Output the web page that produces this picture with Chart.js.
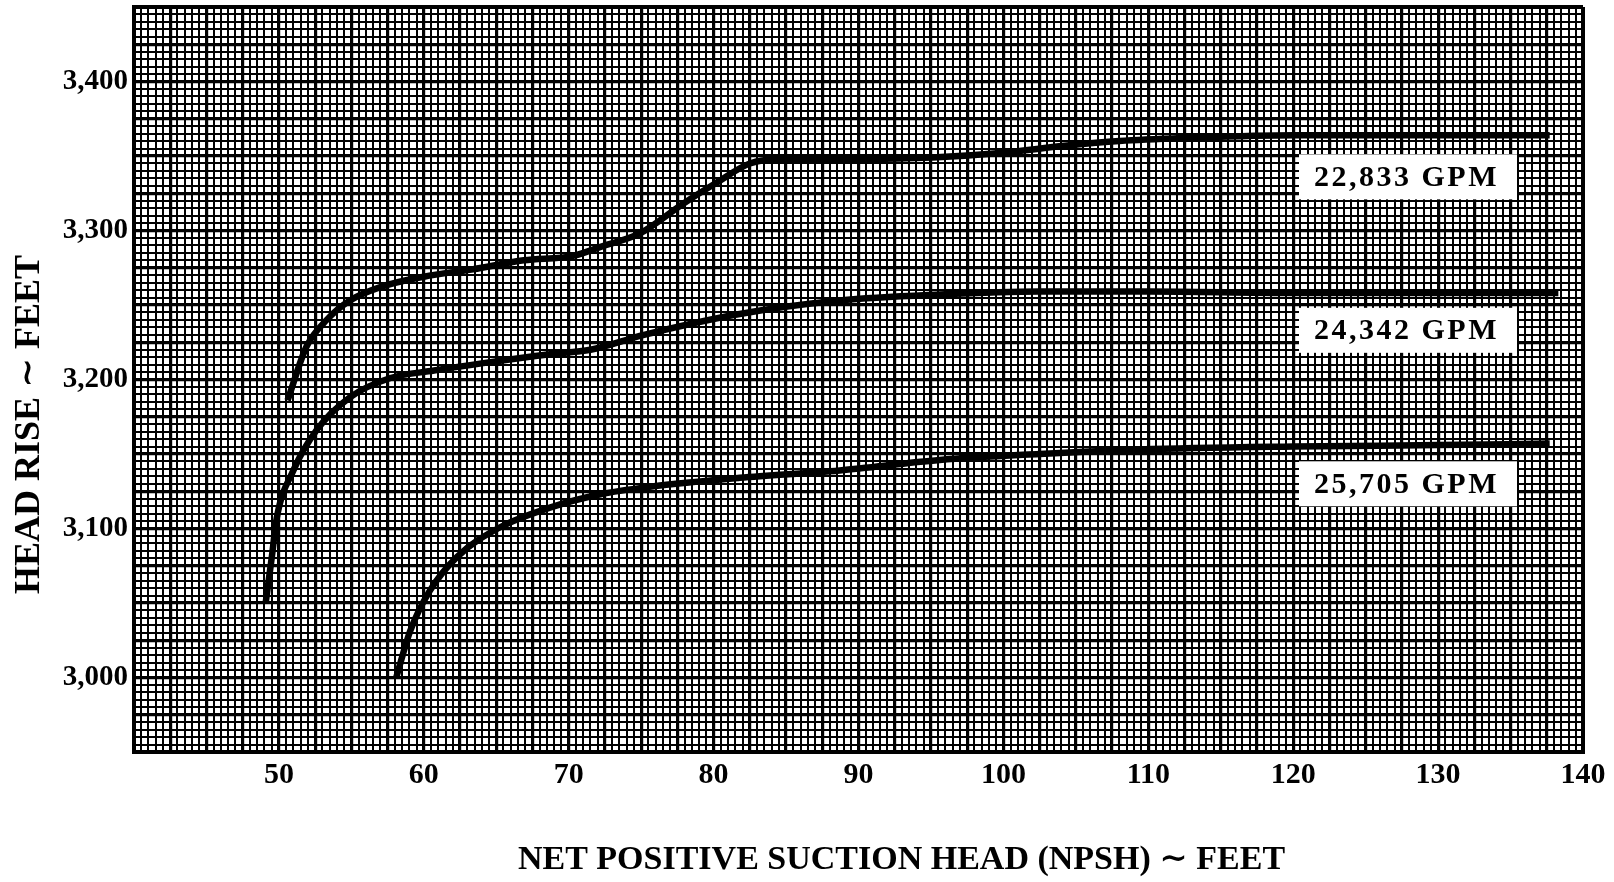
<!DOCTYPE html>
<html>
<head>
<meta charset="utf-8">
<script src="https://cdn.jsdelivr.net/npm/chart.js@4.4.1/dist/chart.umd.min.js"></script>
<style>
  html, body { margin: 0; padding: 0; background: #ffffff; }
  #wrap { width: 1614px; height: 882px; position: relative; }
</style>
</head>
<body>
<div id="wrap"><canvas id="c" width="1614" height="882"></canvas></div>
<script>
// ---------------- data ----------------
const seriesNames = ['22,833 GPM', '24,342 GPM', '25,705 GPM'];

const npsh22833 = [50.6, 51.9, 53.3, 54.9, 57.0, 60.0, 63.4, 66.9, 70.3, 72.2, 74.9, 77.9, 80.2, 82.5, 84.8, 90.6, 95.1, 99.8, 104.4, 108.0, 112.4, 120.0, 130.0, 137.7];
const head22833 = [3186, 3222, 3240, 3253, 3262, 3269, 3274, 3280, 3283, 3289, 3298, 3318, 3332, 3345, 3348, 3348, 3349, 3352, 3357, 3360, 3362, 3364, 3364, 3364];

const npsh24342 = [49.1, 49.5, 49.85, 51.0, 52.6, 54.9, 57.7, 60.7, 64.1, 68.7, 71.5, 75.2, 81.8, 88.7, 95.6, 102.5, 110.0, 120.0, 130.0, 138.3];
const head24342 = [3051, 3080, 3107, 3139, 3166, 3188, 3201, 3206, 3211, 3217, 3220, 3230, 3244, 3253, 3257, 3259, 3259, 3258, 3258, 3258];

const npsh25705 = [58.1, 59.05, 60.4, 62.3, 65.3, 68.7, 72.2, 75.6, 81.8, 88.7, 95.6, 102.5, 109.4, 120.0, 130.0, 137.7];
const head25705 = [3000, 3031, 3058, 3081, 3101, 3114, 3123, 3128, 3134, 3139, 3146, 3150, 3153, 3155, 3156, 3157];

const xTickValues = [50, 60, 70, 80, 90, 100, 110, 120, 130, 140];
const xTickLabels = ['50', '60', '70', '80', '90', '100', '110', '120', '130', '140'];
const yTickValues = [3000, 3100, 3200, 3300, 3400];
const yTickLabels = ['3,000', '3,100', '3,200', '3,300', '3,400'];

// label anchors (data units): left edge x, vertical centre y
const labelAnchorX = [120.4, 120.4, 120.4];
const labelAnchorY = [3336, 3233, 3130];

const xTitle = 'NET POSITIVE SUCTION HEAD (NPSH) \u223C FEET';
const yTitle = 'HEAD RISE \u223C FEET';

// ---------------- chart ----------------
const pts = (xs, ys) => xs.map((x, i) => ({ x: x, y: ys[i] }));
const SERIF = "'Liberation Serif', 'DejaVu Serif', serif";

function isMult(v, step) { const q = v / step; return Math.abs(q - Math.round(q)) < 1e-7; }

const lineStyle = {
  borderColor: '#000000', backgroundColor: '#000000', borderWidth: 6.5,
  pointRadius: 0, pointHoverRadius: 0, fill: false,
  cubicInterpolationMode: 'monotone', borderCapStyle: 'butt', borderJoinStyle: 'round'
};

const gpmLabels = {
  id: 'gpmLabels',
  afterDatasetsDraw(chart) {
    const ctx = chart.ctx, xs = chart.scales.x, ys = chart.scales.y;
    ctx.save();
    ctx.font = 'bold 30px ' + SERIF;
    try { ctx.letterSpacing = '2.5px'; } catch (e) {}
    for (let i = 0; i < seriesNames.length; i++) {
      const left = xs.getPixelForValue(labelAnchorX[i]);
      const cy = ys.getPixelForValue(labelAnchorY[i]);
      const w = 218, h = 45;
      ctx.fillStyle = '#ffffff';
      ctx.fillRect(left, cy - h / 2, w, h);
      ctx.fillStyle = '#000000';
      ctx.textAlign = 'left';
      ctx.textBaseline = 'middle';
      ctx.fillText(seriesNames[i], left + 15, cy + 1);
    }
    ctx.restore();
  }
};

const axisTitles = {
  id: 'axisTitles',
  afterDraw(chart) {
    const ctx = chart.ctx, a = chart.chartArea;
    ctx.save();
    ctx.fillStyle = '#000000';
    ctx.font = 'bold 34px ' + SERIF;
    ctx.textAlign = 'center';
    ctx.textBaseline = 'middle';
    ctx.fillText(xTitle, (a.left + a.right) / 2 + 43, 860);
    ctx.translate(30, (a.top + a.bottom) / 2 + 45);
    ctx.rotate(-Math.PI / 2);
    ctx.font = 'bold 36px ' + SERIF;
    ctx.fillText(yTitle, 0, 0);
    ctx.restore();
  }
};

new Chart(document.getElementById('c'), {
  type: 'line',
  data: {
    datasets: [
      Object.assign({ label: seriesNames[0], data: pts(npsh22833, head22833) }, lineStyle),
      Object.assign({ label: seriesNames[1], data: pts(npsh24342, head24342) }, lineStyle),
      Object.assign({ label: seriesNames[2], data: pts(npsh25705, head25705) }, lineStyle)
    ]
  },
  options: {
    responsive: false,
    devicePixelRatio: 1,
    animation: false,
    events: [],
    layout: { padding: { left: 0, right: 31, top: 7, bottom: 0 } },
    plugins: { legend: { display: false }, tooltip: { enabled: false }, title: { display: false } },
    scales: {
      x: {
        type: 'linear', min: 40, max: 140,
        afterFit(s) { s.height = 130; s.paddingLeft = 0; s.paddingRight = 0; },
        border: { display: true, color: '#000000', width: 4 },
        grid: {
          drawTicks: false,
          color: '#000000',
          lineWidth(c) {
            const v = c.tick ? c.tick.value : 0;
            if (v === 40 || v === 140) return 4;
            return isMult(v, 2.5) ? 3.2 : 2;
          }
        },
        ticks: {
          stepSize: 0.5, autoSkip: false, maxRotation: 0, minRotation: 0, padding: 5,
          color: '#000000', font: { family: SERIF, size: 30, weight: 'bold' },
          callback(v) { const k = xTickValues.indexOf(v); return k >= 0 ? xTickLabels[k] : ''; }
        }
      },
      y: {
        type: 'linear', min: 2950, max: 3450,
        afterFit(s) { s.width = 134; s.paddingTop = 0; s.paddingBottom = 0; },
        border: { display: true, color: '#000000', width: 4 },
        grid: {
          drawTicks: false,
          color: '#000000',
          lineWidth(c) {
            const v = c.tick ? c.tick.value : 0;
            if (v === 2950 || v === 3450) return 4;
            return isMult(v, 25) ? 3.2 : 2;
          }
        },
        ticks: {
          stepSize: 5, autoSkip: false, padding: 6,
          color: '#000000', font: { family: SERIF, size: 29, weight: 'bold' },
          callback(v) { const k = yTickValues.indexOf(v); return k >= 0 ? yTickLabels[k] : ''; }
        }
      }
    }
  },
  plugins: [gpmLabels, axisTitles]
});
</script>
</body>
</html>
